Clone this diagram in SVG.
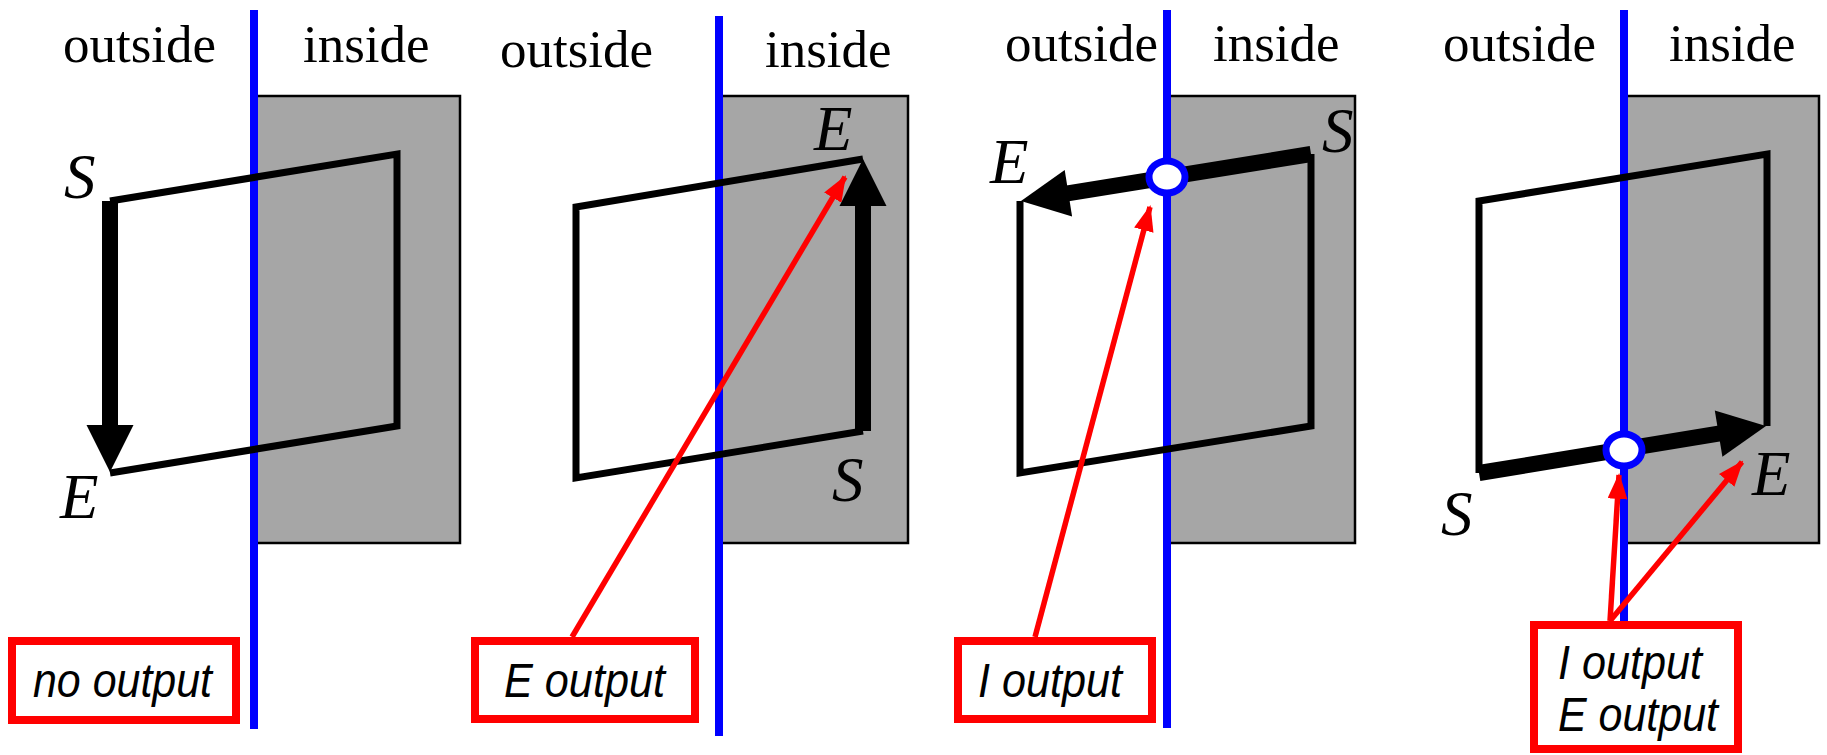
<svg xmlns="http://www.w3.org/2000/svg" width="1827" height="755" viewBox="0 0 1827 755">
<defs>
<style>
.region{fill:#a6a6a6;stroke:#000;stroke-width:2.5}
.wall{stroke:#0000ff;stroke-width:8;fill:none}
.loop{fill:none;stroke:#000;stroke-width:7;stroke-linejoin:miter}
.thick{stroke:#000;stroke-width:16;fill:none}
.head{fill:#000}
.hit{fill:#fff;stroke:#0000ff;stroke-width:7}
.lbl{font-family:"Liberation Serif","Times New Roman",serif;font-size:53px;fill:#000}
.pt{font-family:"Liberation Serif","Times New Roman",serif;font-size:63px;font-style:italic;fill:#000}
.box{fill:#fff;stroke:#ff0000;stroke-width:8}
.btxt{font-family:"Liberation Sans",Arial,sans-serif;font-size:49px;font-style:italic;fill:#000}
.ptr{stroke:#ff0000;stroke-width:5.5;fill:none;marker-end:url(#redhead)}
</style>
<marker id="redhead" markerUnits="userSpaceOnUse" markerWidth="26" markerHeight="20" viewBox="0 0 26 20" refX="24" refY="10" orient="auto">
<path d="M0,0 L26,10 L0,20 Z" fill="#ff0000"/>
</marker>
</defs>
<rect width="1827" height="755" fill="#fff"/>

<g id="panel1">
<rect class="region" x="254" y="96" width="206" height="447"/>
<line class="wall" x1="254" y1="10" x2="254" y2="729"/>
<polyline class="loop" points="110,201 397,154 397,426 110,473"/>
<line class="thick" x1="110" y1="201" x2="110" y2="427"/>
<polygon class="head" points="86.5,425 133.5,425 110,472"/>
<text class="lbl" x="63" y="62">outside</text>
<text class="lbl" x="303" y="62">inside</text>
<text class="pt" x="64" y="198">S</text>
<text class="pt" x="60" y="518">E</text>
</g>

<g id="panel2">
<rect class="region" x="719" y="96" width="189" height="447"/>
<line class="wall" x1="719" y1="16" x2="719" y2="736"/>
<polyline class="loop" points="863,159 576,207 576,478 863,431"/>
<line class="thick" x1="863" y1="431" x2="863" y2="204"/>
<polygon class="head" points="839.5,206 886.5,206 863,159"/>
<text class="lbl" x="500" y="67">outside</text>
<text class="lbl" x="765" y="67">inside</text>
<text class="pt" x="814" y="150">E</text>
<text class="pt" x="832" y="501">S</text>
</g>

<g id="panel3">
<rect class="region" x="1167" y="96" width="188" height="447"/>
<line class="wall" x1="1167" y1="10" x2="1167" y2="728"/>
<polyline class="loop" points="1311,154 1311,426 1020,473 1020,201"/>
<line class="thick" x1="1311" y1="154" x2="1066" y2="193.6"/>
<polygon class="head" points="1021,201 1072.1,216.5 1064.7,170.1"/>
<ellipse class="hit" cx="1167" cy="177" rx="18" ry="16"/>
<text class="lbl" x="1005" y="61">outside</text>
<text class="lbl" x="1213" y="61">inside</text>
<text class="pt" x="990" y="183">E</text>
<text class="pt" x="1322" y="152">S</text>
</g>

<g id="panel4">
<rect class="region" x="1624" y="96" width="195" height="447"/>
<line class="wall" x1="1624" y1="10" x2="1624" y2="740"/>
<polyline class="loop" points="1479,473 1479,201 1767,154 1767,426"/>
<line class="thick" x1="1479" y1="473" x2="1720" y2="433.4"/>
<polygon class="head" points="1766,426 1722.4,456.8 1714.8,410.4"/>
<ellipse class="hit" cx="1624" cy="450" rx="18" ry="16"/>
<text class="lbl" x="1443" y="61">outside</text>
<text class="lbl" x="1669" y="61">inside</text>
<text class="pt" x="1441" y="535">S</text>
<text class="pt" x="1752" y="495">E</text>
</g>

<g id="connectors">
<line class="ptr" x1="572" y1="637" x2="845" y2="177"/>
<line class="ptr" x1="1035" y1="637" x2="1150" y2="207"/>
<line class="ptr" x1="1610" y1="621" x2="1619" y2="475"/>
<line class="ptr" x1="1610" y1="621" x2="1742" y2="462"/>
</g>

<g id="box-no-output">
<rect class="box" x="12" y="641" width="224" height="79"/>
<text class="btxt" x="33" y="697" textLength="179" lengthAdjust="spacingAndGlyphs">no output</text>
</g>
<g id="box-e-output">
<rect class="box" x="475" y="641" width="220" height="78"/>
<text class="btxt" x="504" y="697" textLength="161" lengthAdjust="spacingAndGlyphs">E output</text>
</g>
<g id="box-i-output">
<rect class="box" x="958" y="641" width="194" height="78"/>
<text class="btxt" x="978" y="697" textLength="144" lengthAdjust="spacingAndGlyphs">I output</text>
</g>
<g id="box-ie-output">
<rect class="box" x="1534" y="625" width="204" height="124"/>
<text class="btxt" x="1558" y="679" textLength="144" lengthAdjust="spacingAndGlyphs">I output</text>
<text class="btxt" x="1558" y="731" textLength="160" lengthAdjust="spacingAndGlyphs">E output</text>
</g>
</svg>
